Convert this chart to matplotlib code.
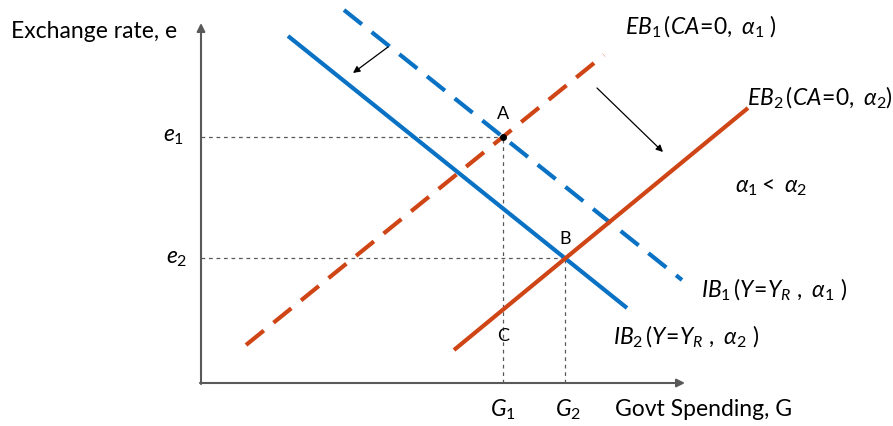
import numpy as np
import matplotlib
matplotlib.use("Agg")
import matplotlib.pyplot as plt

plt.rcParams['font.family'] = ['Lato', 'DejaVu Sans']
plt.rcParams['mathtext.fontset'] = 'custom'
plt.rcParams['mathtext.rm'] = 'Lato'
plt.rcParams['mathtext.it'] = 'Lato:italic'

# schedule endpoints (G, e) in chart units
ib1_G = [143, 481]; ib1_e = [373, 103]   # IB1, dashed blue
ib2_G = [87, 426];  ib2_e = [347, 75]    # IB2, solid blue
eb1_G = [45, 403];  eb1_e = [38, 328]    # EB1, dashed orange
eb2_G = [253, 547]; eb2_e = [33, 275]    # EB2, solid orange

blue = '#0A72C4'
orange = '#CF4515'
grey = '#595959'


def line_coef(G, e):
    m = (e[1] - e[0]) / (G[1] - G[0])
    return m, e[0] - m * G[0]


def cross(G1, e1, G2, e2):
    m1, b1 = line_coef(G1, e1)
    m2, b2 = line_coef(G2, e2)
    g = (b2 - b1) / (m1 - m2)
    return g, m1 * g + b1


A = cross(ib1_G, ib1_e, eb1_G, eb1_e)
B = cross(ib2_G, ib2_e, eb2_G, eb2_e)
m, b = line_coef(eb2_G, eb2_e)
C = (A[0], m * A[0] + b)

fig = plt.figure(figsize=(8.93, 4.26), dpi=100)
ax = fig.add_axes([0, 0, 1, 1])
ax.set_xlim(-201, 692)
ax.set_ylim(-43, 383)
ax.axis('off')

# axes with arrows
ax.annotate('', xy=(0, 360), xytext=(0, -1),
            arrowprops=dict(arrowstyle='-|>', color=grey, lw=1.5, mutation_scale=12, shrinkA=0, shrinkB=0))
ax.annotate('', xy=(484, 0), xytext=(-1, 0),
            arrowprops=dict(arrowstyle='-|>', color=grey, lw=1.5, mutation_scale=12, shrinkA=0, shrinkB=0))

# guide lines
guide = dict(color=grey, lw=0.9, ls=(0, (3, 3)))
ax.plot([0, A[0]], [A[1], A[1]], **guide)
ax.plot([A[0], A[0]], [0, A[1]], **guide)
ax.plot([0, B[0]], [B[1], B[1]], **guide)
ax.plot([B[0], B[0]], [0, B[1]], **guide)

# schedules
ax.plot(ib1_G, ib1_e, color=blue, lw=3, ls=(0, (5.5, 3)), solid_capstyle='butt', dash_capstyle='butt')
ax.plot(ib2_G, ib2_e, color=blue, lw=3, solid_capstyle='butt')
ax.plot(eb1_G, eb1_e, color=orange, lw=3, ls=(0, (5.5, 3)), solid_capstyle='butt', dash_capstyle='butt')
ax.plot(eb2_G, eb2_e, color=orange, lw=3, solid_capstyle='butt')

ax.plot(A[0], A[1], 'o', color='black', ms=4)

# shift arrows
arr = dict(arrowstyle='-|>', color='black', lw=0.9, mutation_scale=10, shrinkA=0, shrinkB=0)
ax.annotate('', xy=(152, 310), xytext=(187, 336), arrowprops=arr)
ax.annotate('', xy=(462, 231), xytext=(396, 295), arrowprops=arr)

fs = 16.5
ax.text(-190, 351, 'Exchange rate, e', fontsize=fs, ha='left', va='center')
ax.text(-17, A[1], r'$e_1$', fontsize=fs, ha='right', va='center')
ax.text(-14, B[1], r'$e_2$', fontsize=fs, ha='right', va='center')
ax.text(A[0], -27, r'$G_1$', fontsize=fs, ha='center', va='center')
ax.text(B[0] + 3, -27, r'$G_2$', fontsize=fs, ha='center', va='center')
ax.text(414, -27, 'Govt Spending, G', fontsize=fs, ha='left', va='center')

ax.text(A[0], A[1] + 23, 'A', fontsize=13, ha='center', va='center')
ax.text(B[0], B[1] + 19, 'B', fontsize=13, ha='center', va='center')
ax.text(C[0], 47, 'C', fontsize=13, ha='center', va='center')

ax.text(424, 356, r'$EB_1\,(CA\!=\!0,\ \alpha_1\ )$', fontsize=fs, ha='left', va='center')
ax.text(546, 285, r'$EB_2\,(CA\!=\!0,\ \alpha_2)$', fontsize=fs, ha='left', va='center')
ax.text(534, 195, r'$\alpha_1<\ \alpha_2$', fontsize=fs, ha='left', va='center')
ax.text(500, 93, r'$IB_1\,(Y\!=\!Y_R\ ,\ \alpha_1\ )$', fontsize=fs, ha='left', va='center')
ax.text(412, 46, r'$IB_2\,(Y\!=\!Y_R\ ,\ \alpha_2\ )$', fontsize=fs, ha='left', va='center')

fig.savefig('out.png', dpi=100)
